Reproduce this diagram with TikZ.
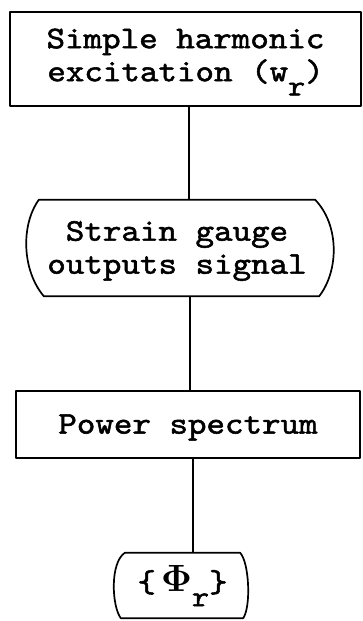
\RequirePackage{fix-cm}
\documentclass[tikz,border=0pt]{standalone}
\usepackage[no-math]{fontspec}
\newfontfamily\tw{lmmono10-regular.otf}[FakeStretch=1.12,FakeBold=1.7]
\newcommand{\sublow}[1]{\raisebox{-0.45em}{\fontsize{29}{29}\selectfont #1}}
\begin{document}
\begin{tikzpicture}[x=1pt,y=-1pt,
  every node/.style={font=\tw\fontsize{31.5}{33}\selectfont, align=center, inner sep=0pt},
  boxline/.style={line width=1.7pt, line join=round},
  conn/.style={line width=1.7pt}]
\useasboundingbox (0,0) rectangle (362,621);
% nodes (centred on their text; the drawn outlines sit 3pt higher)
\node[minimum width=351, minimum height=94] (n1) at (185.5,62) {Simple harmonic\\excitation (w\sublow{r})};
\node[minimum width=276, minimum height=96] (n2) at (177,251) {Strain gauge\\outputs signal};
\node[minimum width=344, minimum height=67] (n3) at (188,427.5) {Power spectrum};
\node[minimum width=115, minimum height=65] (n4) at (182.5,586) {\{\,{\fontsize{38}{38}\selectfont$\mathbf{\Phi}$}\sublow{r}\}};
% outlines
\draw[boxline] ([yshift=3pt]n1.north west) rectangle ([yshift=3pt]n1.south east);
\draw[boxline] ([yshift=3pt]n3.north west) rectangle ([yshift=3pt]n3.south east);
\draw[boxline] ([yshift=3pt]n2.north west) -- ([yshift=3pt]n2.north east)
  .. controls +(24,25) and +(20,-26) .. ([xshift=4pt,yshift=3pt]n2.south east)
  -- ([xshift=5pt,yshift=3pt]n2.south west)
  .. controls +(-22,-26) and +(-18,25) .. ([yshift=3pt]n2.north west) -- cycle;
\draw[boxline] ([yshift=0.5pt]n4.north west) -- ([yshift=0.5pt]n4.north east)
  .. controls +(9,10) and +(8,-12) .. ([xshift=3pt,yshift=0.5pt]n4.south east)
  -- ([xshift=-4pt,yshift=0.5pt]n4.south west)
  .. controls +(-9,-12) and +(-15,10) .. ([yshift=0.5pt]n4.north west) -- cycle;
% connectors
\coordinate (c1) at (189,0);
\coordinate (c2) at (190,0);
\coordinate (c3) at (193,0);
\draw[conn] ([yshift=3pt]n1.south -| c1) -- ([yshift=3pt]n2.north -| c1);
\draw[conn] ([yshift=3pt]n2.south -| c2) -- ([yshift=3pt]n3.north -| c2);
\draw[conn] ([yshift=3pt]n3.south -| c3) -- ([yshift=0.5pt]n4.north -| c3);
\end{tikzpicture}
\end{document}
